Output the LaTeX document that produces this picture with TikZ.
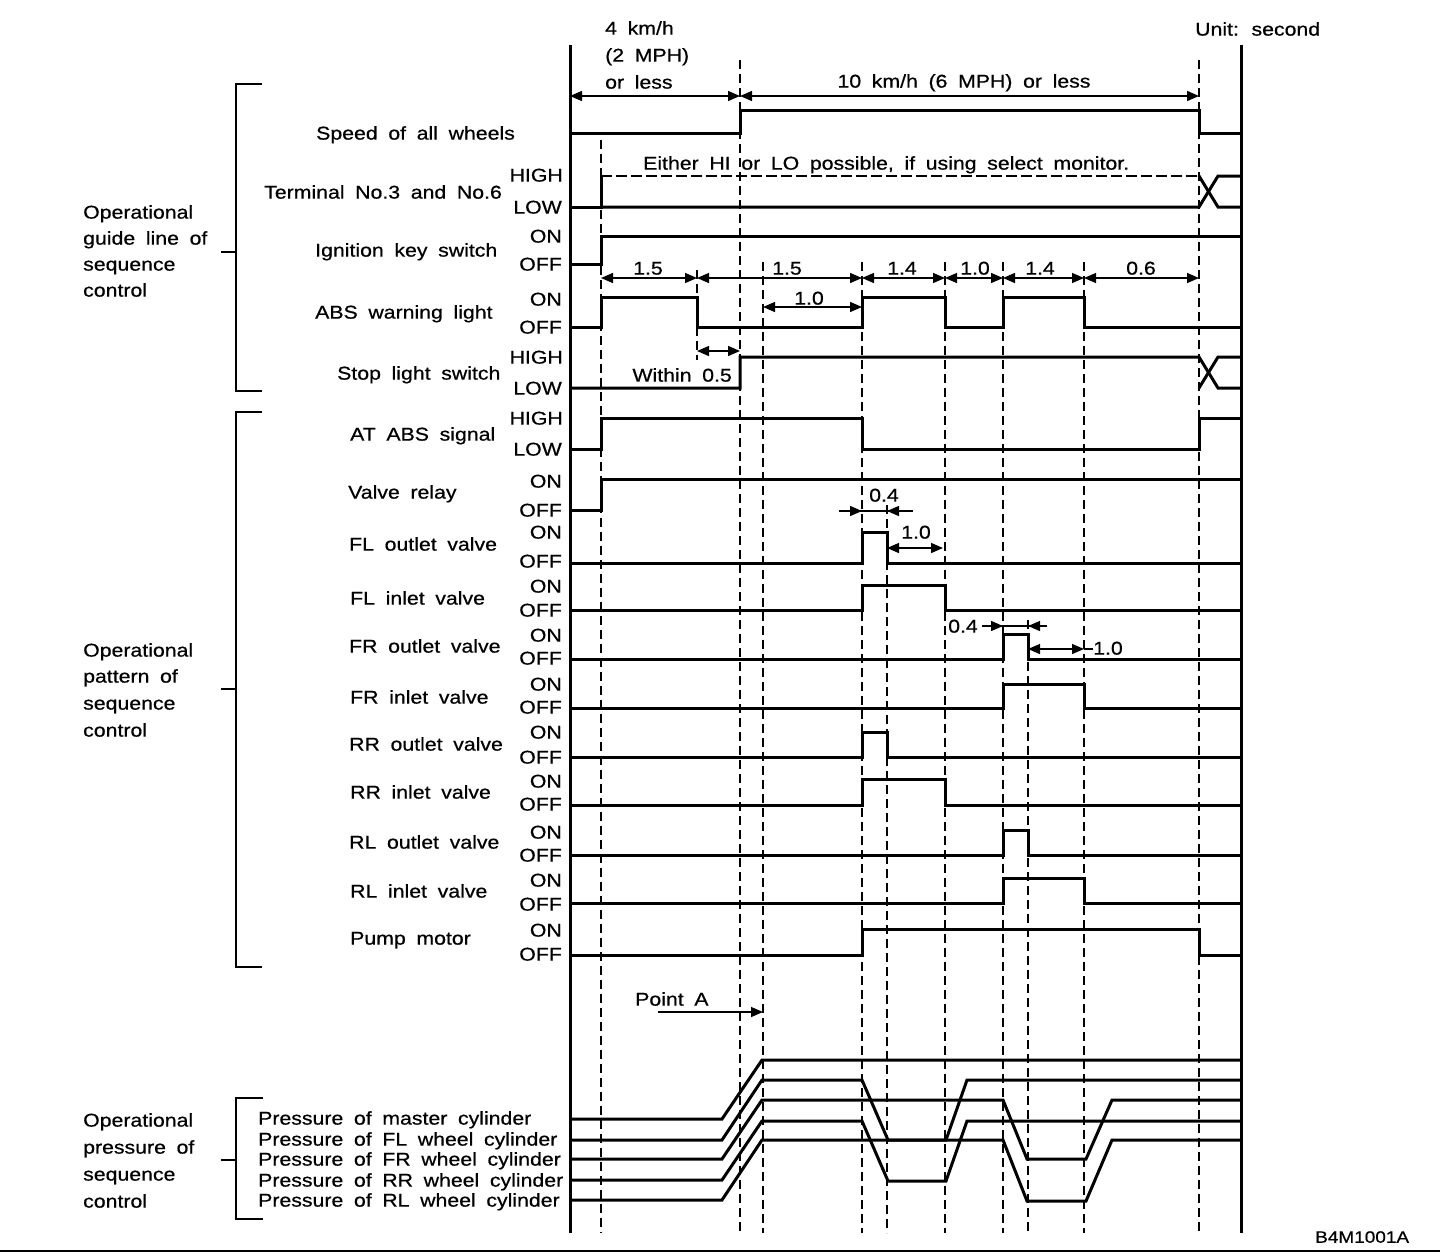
\documentclass[tikz,border=0pt]{standalone}
\usepackage{fontspec}
\setmainfont{Liberation Sans}[FakeStretch=1.15, WordSpace=1.8, FakeBold=0.6]
\usetikzlibrary{arrows.meta}
\begin{document}
\begin{tikzpicture}[x=1pt,y=-1pt,
  txt/.style={inner sep=0pt, text height=13.2pt, text depth=0pt, font=\fontsize{18.5}{21}\selectfont},
  sig/.style={line width=3pt, line join=miter, line cap=butt},
  frame/.style={line width=3pt},
  gridk/.style={line width=2.2pt, dash pattern=on 9pt off 5pt},
  gridt/.style={line width=1.3pt, dash pattern=on 9pt off 5pt},
  dim/.style={line width=1.4pt},
  brk/.style={line width=2.4pt},
  >={Triangle[length=12pt,width=10pt]}]
\useasboundingbox (0,0) rectangle (1440,1256);
\fill[white] (0,0) rectangle (1440,1256);

% ---------- dashed time marks ----------
\draw[gridk] (601,140) -- (601,1233);
\draw[gridk] (697,270) -- (697,297);
\draw[gridk] (697,327) -- (697,360);
\draw[gridk] (740,60) -- (740,1233);
\draw[gridt] (763,262) -- (763,1233);
\draw[gridk] (862,262) -- (862,1233);
\draw[gridt] (887,505) -- (887,1233);
\draw[gridk] (945,262) -- (945,1233);
\draw[gridk] (1003,262) -- (1003,1233);
\draw[gridt] (1028,620) -- (1028,1233);
\draw[gridk] (1084,262) -- (1084,1233);
\draw[gridt] (1199,60) -- (1199,1233);

% ---------- frame verticals ----------
\draw[frame] (570,45) -- (570,1233);
\draw[frame] (1241,45) -- (1241,1233);

% ---------- top texts ----------
\node[txt,anchor=west] (tA1) at (605,28) {4 km/h};
\node[txt,anchor=west] (tA2) at (605,55) {(2 MPH)};
\node[txt,anchor=west] (tA3) at (605,82) {or less};
\node[txt] (tB) at (964,81) {10 km/h (6 MPH) or less};
\node[txt,anchor=west] (tunit) at (1195,29) {Unit: second};
\draw[dim,<->] (570,96) -- (740,96);
\draw[dim,<->] (740,96) -- (1199,96);

% ---------- signals ----------
% Speed of all wheels
\draw[sig] (570,133) -- (740,133) -- (740,110) -- (1199,110) -- (1199,133) -- (1241,133);
% Terminal
\draw[line width=1.8pt, dash pattern=on 11pt off 4pt] (601,176) -- (1199,176);
\draw[sig] (570,207) -- (601,207) -- (601,176);
\draw[sig] (601,207) -- (1199,207) -- (1218,176) -- (1241,176);
\draw[sig] (1199,176) -- (1218,207) -- (1241,207);
\node[txt,anchor=west] (tEither) at (643,163) {Either HI or LO possible, if using select monitor.};
% Ignition
\draw[sig] (570,264) -- (601,264) -- (601,236) -- (1241,236);
% ABS warning light
\draw[sig] (570,327) -- (601,327) -- (601,297) -- (697,297) -- (697,327) -- (862,327) -- (862,297) -- (945,297) -- (945,327) -- (1003,327) -- (1003,297) -- (1084,297) -- (1084,327) -- (1241,327);
% Stop light switch
\draw[sig] (570,388) -- (740,388) -- (740,357) -- (1199,357) -- (1218,388) -- (1241,388);
\draw[sig] (1199,388) -- (1218,357) -- (1241,357);
% AT ABS signal
\draw[sig] (570,449) -- (601,449) -- (601,418) -- (862,418) -- (862,449) -- (1199,449) -- (1199,418) -- (1241,418);
% Valve relay
\draw[sig] (570,510) -- (601,510) -- (601,479) -- (1241,479);
% FL outlet
\draw[sig] (570,563) -- (862,563) -- (862,532) -- (887,532) -- (887,563) -- (1241,563);
% FL inlet
\draw[sig] (570,610) -- (862,610) -- (862,585) -- (945,585) -- (945,610) -- (1241,610);
% FR outlet
\draw[sig] (570,659) -- (1003,659) -- (1003,634) -- (1028,634) -- (1028,659) -- (1241,659);
% FR inlet
\draw[sig] (570,708) -- (1003,708) -- (1003,684) -- (1084,684) -- (1084,708) -- (1241,708);
% RR outlet
\draw[sig] (570,757) -- (862,757) -- (862,732) -- (887,732) -- (887,757) -- (1241,757);
% RR inlet
\draw[sig] (570,805) -- (862,805) -- (862,779) -- (945,779) -- (945,805) -- (1241,805);
% RL outlet
\draw[sig] (570,855) -- (1003,855) -- (1003,830) -- (1028,830) -- (1028,855) -- (1241,855);
% RL inlet
\draw[sig] (570,903) -- (1003,903) -- (1003,878) -- (1084,878) -- (1084,903) -- (1241,903);
% Pump motor
\draw[sig] (570,955) -- (862,955) -- (862,929) -- (1199,929) -- (1199,955) -- (1241,955);

% ---------- pressures ----------
\draw[sig] (570,1119) -- (722,1119) -- (762,1060) -- (1241,1060);
\draw[sig] (570,1140) -- (722,1140) -- (762,1080) -- (862,1080) -- (888,1140) -- (946,1140) -- (967,1080) -- (1241,1080);
\draw[sig] (570,1159) -- (722,1159) -- (762,1100) -- (1003,1100) -- (1027,1159) -- (1086,1159) -- (1112,1100) -- (1241,1100);
\draw[sig] (570,1180) -- (722,1180) -- (762,1121) -- (862,1121) -- (888,1181) -- (946,1181) -- (967,1121) -- (1241,1121);
\draw[sig] (570,1200) -- (722,1200) -- (762,1140) -- (1003,1140) -- (1027,1201) -- (1086,1201) -- (1112,1140) -- (1241,1140);

% ---------- dimensions ----------
\draw[dim,<->] (601,278) -- (697,278);
\draw[dim,<->] (697,278) -- (862,278);
\draw[dim,<->] (862,278) -- (945,278);
\draw[dim,<->] (945,278) -- (1003,278);
\draw[dim,<->] (1003,278) -- (1084,278);
\draw[dim,<->] (1084,278) -- (1199,278);
\node[txt] (d1) at (648,268) {1.5};
\node[txt] (d2) at (787,268) {1.5};
\node[txt] (d3) at (902,268) {1.4};
\node[txt] (d4) at (975,268) {1.0};
\node[txt] (d5) at (1040,268) {1.4};
\node[txt] (d6) at (1141,268) {0.6};
\draw[dim,<->] (763,307) -- (862,307);
\node[txt] (d7) at (809,298) {1.0};
\draw[dim,<->] (697,351) -- (740,351);
\node[txt,anchor=east] (dw) at (732,375) {Within 0.5};
% FL outlet dims
\draw[dim] (839,511) -- (913,511);
\draw[dim,->] (839,511) -- (862,511);
\draw[dim,->] (913,511) -- (887,511);
\node[txt] (d8) at (884,495) {0.4};
\draw[dim,<->] (887,548) -- (943,548);
\node[txt] (d9) at (916,532) {1.0};
% FR outlet dims
\draw[dim] (982,626) -- (1047,626);
\draw[dim,->] (982,626) -- (1003,626);
\draw[dim,->] (1047,626) -- (1028,626);
\node[txt] (d10) at (963,626) {0.4};
\draw[dim,<->] (1028,649) -- (1084,649);
\draw[dim] (1084,649) -- (1093,649);
\node[txt,anchor=west] (d11) at (1093,648) {1.0};
% Point A
\node[txt,anchor=west] (pA) at (635,999) {Point A};
\draw[dim,->] (658,1012) -- (763,1012);

% ---------- signal labels ----------
\node[txt,anchor=west] (n1) at (316,133) {Speed of all wheels};
\node[txt,anchor=west] (n2) at (264,192) {Terminal No.3 and No.6};
\node[txt,anchor=west] (n3) at (315,250) {Ignition key switch};
\node[txt,anchor=west] (n4) at (315,312) {ABS warning light};
\node[txt,anchor=west] (n5) at (337,373) {Stop light switch};
\node[txt,anchor=west] (n6) at (350,434) {AT ABS signal};
\node[txt,anchor=west] (n7) at (348,492) {Valve relay};
\node[txt,anchor=west] (n8) at (349,544) {FL outlet valve};
\node[txt,anchor=west] (n9) at (350,598) {FL inlet valve};
\node[txt,anchor=west] (n10) at (349,646) {FR outlet valve};
\node[txt,anchor=west] (n11) at (350,697) {FR inlet valve};
\node[txt,anchor=west] (n12) at (349,744) {RR outlet valve};
\node[txt,anchor=west] (n13) at (350,792) {RR inlet valve};
\node[txt,anchor=west] (n14) at (349,842) {RL outlet valve};
\node[txt,anchor=west] (n15) at (350,891) {RL inlet valve};
\node[txt,anchor=west] (n16) at (350,938) {Pump motor};

% ---------- level labels ----------
\node[txt,anchor=east] (l2h) at (563,175) {HIGH};
\node[txt,anchor=east] (l2l) at (562,207) {LOW};
\node[txt,anchor=east] (l3h) at (562,236) {ON};
\node[txt,anchor=east] (l3l) at (562,264) {OFF};
\node[txt,anchor=east] (l4h) at (562,299) {ON};
\node[txt,anchor=east] (l4l) at (562,327) {OFF};
\node[txt,anchor=east] (l5h) at (563,357) {HIGH};
\node[txt,anchor=east] (l5l) at (562,388) {LOW};
\node[txt,anchor=east] (l6h) at (563,418) {HIGH};
\node[txt,anchor=east] (l6l) at (562,449) {LOW};
\node[txt,anchor=east] (l7h) at (562,481) {ON};
\node[txt,anchor=east] (l7l) at (562,510) {OFF};
\node[txt,anchor=east] (l8h) at (562,532) {ON};
\node[txt,anchor=east] (l8l) at (562,561) {OFF};
\node[txt,anchor=east] (l9h) at (562,586) {ON};
\node[txt,anchor=east] (l9l) at (562,610) {OFF};
\node[txt,anchor=east] (l10h) at (562,635) {ON};
\node[txt,anchor=east] (l10l) at (562,658) {OFF};
\node[txt,anchor=east] (l11h) at (562,684) {ON};
\node[txt,anchor=east] (l11l) at (562,707) {OFF};
\node[txt,anchor=east] (l12h) at (562,732) {ON};
\node[txt,anchor=east] (l12l) at (562,757) {OFF};
\node[txt,anchor=east] (l13h) at (562,781) {ON};
\node[txt,anchor=east] (l13l) at (562,804) {OFF};
\node[txt,anchor=east] (l14h) at (562,832) {ON};
\node[txt,anchor=east] (l14l) at (562,855) {OFF};
\node[txt,anchor=east] (l15h) at (562,880) {ON};
\node[txt,anchor=east] (l15l) at (562,904) {OFF};
\node[txt,anchor=east] (l16h) at (562,930) {ON};
\node[txt,anchor=east] (l16l) at (562,954) {OFF};

% ---------- pressure labels ----------
\node[txt,anchor=west] (p1) at (258,1118) {Pressure of master cylinder};
\node[txt,anchor=west] (p2) at (258,1139) {Pressure of FL wheel cylinder};
\node[txt,anchor=west] (p3) at (258,1159) {Pressure of FR wheel cylinder};
\node[txt,anchor=west] (p4) at (258,1180) {Pressure of RR wheel cylinder};
\node[txt,anchor=west] (p5) at (258,1200) {Pressure of RL wheel cylinder};

% ---------- brackets ----------
\draw[brk] (262,84) -- (236,84) -- (236,391) -- (262,391);
\draw[brk] (221,252) -- (236,252);
\draw[brk] (262,412) -- (236,412) -- (236,967) -- (262,967);
\draw[brk] (221,689) -- (236,689);
\draw[brk] (263,1098) -- (236,1098) -- (236,1219) -- (263,1219);
\draw[brk] (221,1160) -- (236,1160);

\node[txt,anchor=west] (g1a) at (83,212) {Operational};
\node[txt,anchor=west] (g1b) at (83,238) {guide line of};
\node[txt,anchor=west] (g1c) at (83,264) {sequence};
\node[txt,anchor=west] (g1d) at (83,290) {control};
\node[txt,anchor=west] (g2a) at (83,650) {Operational};
\node[txt,anchor=west] (g2b) at (83,676) {pattern of};
\node[txt,anchor=west] (g2c) at (83,703) {sequence};
\node[txt,anchor=west] (g2d) at (83,730) {control};
\node[txt,anchor=west] (g3a) at (83,1120) {Operational};
\node[txt,anchor=west] (g3b) at (83,1147) {pressure of};
\node[txt,anchor=west] (g3c) at (83,1174) {sequence};
\node[txt,anchor=west] (g3d) at (83,1201) {control};

% ---------- footer ----------
\draw[line width=2pt] (0,1251) -- (1440,1251);
\node[inner sep=0pt, text height=11.5pt, text depth=0pt, font=\fontsize{16.5}{19}\selectfont, anchor=west] (code) at (1315,1237) {B4M1001A};
\end{tikzpicture}
\end{document}
